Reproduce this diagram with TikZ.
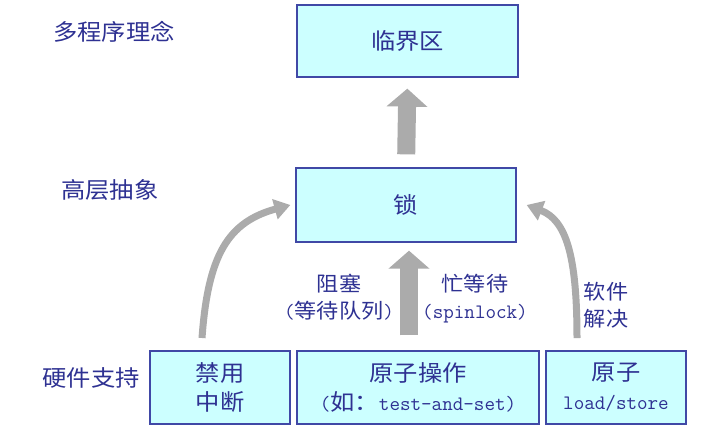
\documentclass[tikz,border=0pt]{standalone}
\usepackage{fontspec}
\setmainfont{Noto Sans CJK SC}[FakeStretch=1.08]
\setmonofont{Latin Modern Mono}
\usetikzlibrary{arrows.meta}
\definecolor{txt}{HTML}{2E3192}
\definecolor{boxline}{HTML}{4048A6}
\definecolor{boxfill}{HTML}{CCFFFF}
\definecolor{arrowgray}{HTML}{ABABAB}
\newcommand\fbig{\fontsize{22.5}{29}\selectfont}
\newcommand\fmid{\fontsize{20.5}{27}\selectfont}
\newcommand\mono{\ttfamily\fontsize{20.5}{29}\selectfont}
\begin{document}
\begin{tikzpicture}[x=1pt,y=-1pt,
  box/.style={draw=boxline,line width=1.3pt,fill=boxfill,text=txt,align=center,inner sep=0pt,font=\fbig},
  lvl/.style={text=txt,font=\fbig,inner sep=0pt},
  lbl/.style={text=txt,font=\fmid,align=center,inner sep=0pt},
  blockarrow/.style={draw=arrowgray,line width=18pt,-{Triangle[width=40pt,length=18pt]}},
  bendarrow/.style={draw=arrowgray,line width=7pt,-{Triangle[width=20pt,length=16pt]}}
]
\useasboundingbox (0,0) rectangle (718,445);
% boxes
\node[box,minimum width=221pt,minimum height=72pt] (cs) at (407.5,41) {临界区};
\node[box,minimum width=220pt,minimum height=74pt] (lock) at (406,205) {锁};
\node[box,minimum width=140pt,minimum height=73pt] (b1) at (220,387.5) {禁用\\中断};
\node[box,minimum width=242pt,minimum height=73pt] (b2) at (418,387.5) {原子操作\\{\mono(}如：{\mono test-and-set)}};
\node[box,minimum width=140pt,minimum height=73pt] (b3) at (616,387.5) {原子\\{\mono load/store}};
% level labels
\node[lvl] (l1) at (114,32) {多程序理念};
\node[lvl] (l2) at (110,190) {高层抽象};
\node[lvl] (l3) at (91,378) {硬件支持};
% arrow labels
\node[lbl] (t1) at (339,297.5) {阻塞\\{\mono(}等待队列{\mono)}};
\node[lbl] (t2) at (475,298.5) {忙等待\\{\mono(spinlock)}};
\node[lbl] (t3) at (606,305) {软件\\解决};
% block arrows
\draw[blockarrow,shorten <=13pt,shorten >=11pt] (lock.north) -- (cs.south);
\draw[blockarrow,shorten <=15pt,shorten >=8pt] ([xshift=3pt]b2.north -| lock.south) -- ([xshift=3pt]lock.south);
% curved arrows
\coordinate (s1) at (202,338);
\coordinate (s3) at (577,338);
\draw[bendarrow] (s1) .. controls (208,255) and (228,222) .. ([xshift=-5pt]lock.west);
\draw[bendarrow] (s3) .. controls (577,255) and (566,220) .. ([xshift=10pt]lock.east);
\end{tikzpicture}
\end{document}
